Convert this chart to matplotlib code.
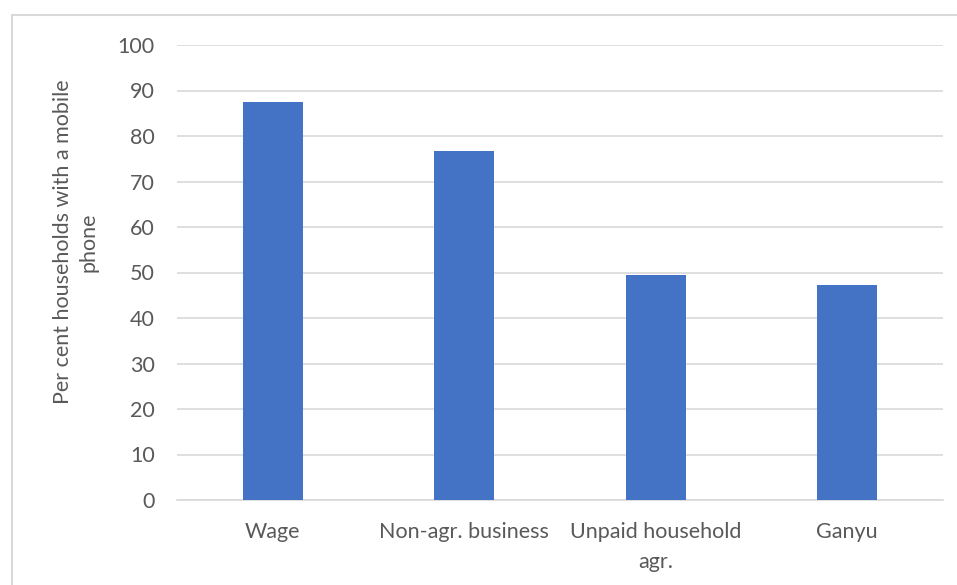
import matplotlib.pyplot as plt
import numpy as np
from matplotlib.patches import Rectangle

categories = ['Wage', 'Non-agr. business', 'Unpaid household\nagr.', 'Ganyu']
values = [87.5, 76.7, 49.5, 47.3]
yticks = [0, 10, 20, 30, 40, 50, 60, 70, 80, 90, 100]

plt.rcParams['font.family'] = ['Lato', 'DejaVu Sans']
txt_color = '#595959'
grid_color = '#D9D9D9'

W, H = 957, 585
fig = plt.figure(figsize=(W / 100, H / 100), dpi=100)
ax = fig.add_axes([177 / W, 1 - 500 / H, (943 - 177) / W, (500 - 45) / H])

x = np.arange(len(categories))
ax.bar(x, values, width=0.314, color='#4472C4', zorder=3)

ax.set_xlim(-0.5, len(categories) - 0.5)
ax.set_ylim(0, 100)
ax.set_yticks(yticks)
ax.set_xticks(x)
ax.set_xticklabels(categories, linespacing=1.6)
ax.tick_params(axis='both', length=0, labelsize=15.5, colors=txt_color)
ax.tick_params(axis='y', pad=16)
ax.tick_params(axis='x', pad=16)
ax.grid(axis='y', color=grid_color, linewidth=1.2, zorder=0)
for s in ['top', 'right', 'left']:
    ax.spines[s].set_visible(False)
ax.spines['bottom'].set_color(grid_color)
ax.spines['bottom'].set_linewidth(1.2)

fig.text(76 / W, 1 - 242 / H, 'Per cent households with a mobile\nphone',
         rotation=90, ha='center', va='center', multialignment='center',
         fontsize=15.5, color=txt_color, linespacing=1.35)

# chart border
fig.add_artist(Rectangle((12 / W, -0.1), 2, 1 - 15 / H + 0.1,
                         transform=fig.transFigure, fill=False,
                         edgecolor=grid_color, linewidth=1.5))

fig.savefig('out.png', dpi=100)
